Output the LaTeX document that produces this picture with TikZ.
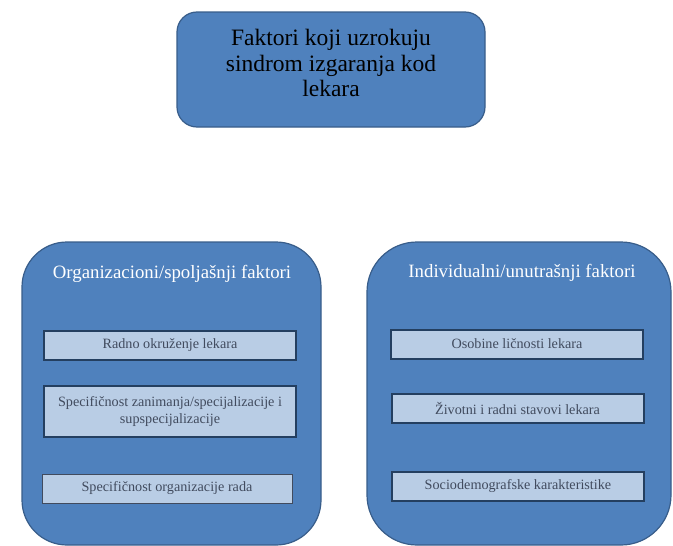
\documentclass[tikz,border=0pt]{standalone}
\usepackage{fontspec}
\setmainfont{Liberation Serif}
\definecolor{mainblue}{HTML}{4F81BD}
\definecolor{mainline}{HTML}{385D8A}
\definecolor{itemfill}{HTML}{B9CDE5}
\definecolor{itemline}{HTML}{243F60}
\definecolor{itemtext}{HTML}{414B5E}
\begin{document}
\begin{tikzpicture}[x=1pt,y=-1pt,
    groupbox/.style={draw=mainline,fill=mainblue,line width=1.2pt,rounded corners=45pt,inner sep=0pt},
    itembox/.style={draw=itemline,fill=itemfill,line width=2pt,inner sep=0pt,minimum height=29pt,
        minimum width=252pt,text=itemtext,font=\fontsize{14.2}{17}\selectfont,align=center},
    grouptitle/.style={text=white,font=\fontsize{18.8}{22}\selectfont}]
  \useasboundingbox (0,0) rectangle (673,546);
  \node[draw=mainline,fill=mainblue,line width=1.2pt,rounded corners=20pt,minimum width=308pt,
        minimum height=115pt] (main) at (331,69.5) {};
  \node[align=center,font=\fontsize{23.5}{25.5}\selectfont] (maintext) at (331,63)
        {Faktori koji uzrokuju\\sindrom izgaranja kod\\lekara};
  % two groups
  \node[groupbox,minimum width=299pt,minimum height=303pt] (org) at (171.5,393.5) {};
  \node[groupbox,minimum width=304pt,minimum height=303pt,rounded corners=50pt] (ind) at (519,393.5) {};
  \node[grouptitle] (orgtitle) at (172,274) {Organizacioni/spoljašnji faktori};
  \node[grouptitle] (indtitle) at (522,273) {Individualni/unutrašnji faktori};
  % left items
  \node[itembox] (org1) at (170,345.5) {Radno okruženje lekara};
  \node[itembox,minimum height=51pt] (org2) at (170,411.5) {Specifičnost zanimanja/specijalizacije i\\supspecijalizacije};
  \node[itembox,draw=itemtext,line width=1pt,minimum width=250pt] (org3) at (167,488.5) {Specifičnost organizacije rada};
  % right items
  \node[itembox] (ind1) at (517,344) {Osobine ličnosti lekara};
  \node[itembox] (ind2) at (517.5,408) {Životni i radni stavovi lekara};
  \node[itembox] (ind3) at (518,486) {Sociodemografske karakteristike};
\end{tikzpicture}
\end{document}
